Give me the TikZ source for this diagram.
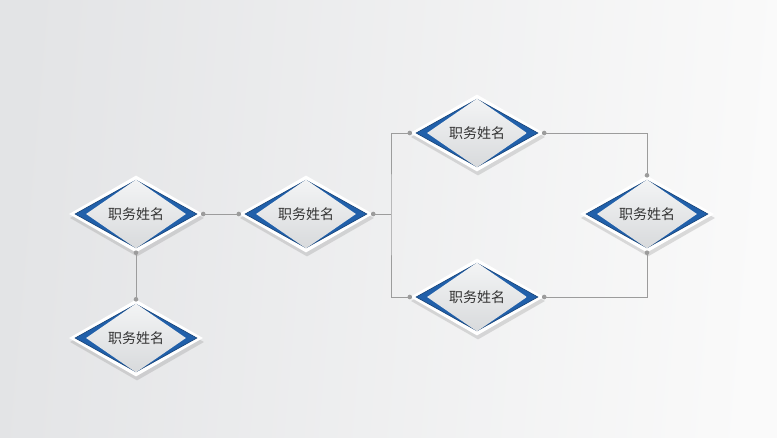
\documentclass[tikz,border=0pt]{standalone}
\usepackage{fontspec}
\newfontfamily\cjk{Noto Sans CJK SC}
\usetikzlibrary{shapes.geometric}
\usetikzlibrary{shadows}
\definecolor{bandblue}{HTML}{2160AA}
\definecolor{wiregray}{HTML}{9C9C9C}
\definecolor{bgdark}{HTML}{E3E4E6}
\definecolor{bglight}{HTML}{FAFAFA}
\definecolor{innertop}{HTML}{F3F4F5}
\definecolor{innerbot}{HTML}{D8DADC}
\tikzset{
  outer/.style={diamond, fill=white, inner sep=0pt, minimum width=134pt, minimum height=77pt,
    drop shadow={opacity=0.25, shadow xshift=1pt, shadow yshift=-4pt}},
  band/.style={diamond, fill=bandblue, draw=bandblue!70!black, line width=0.6pt, inner sep=0pt,
    minimum width=122pt, minimum height=68pt},
  inner/.style={diamond, top color=innertop, bottom color=innerbot, inner sep=0pt,
    minimum width=100pt, minimum height=52pt, text=black!80,
    font=\cjk\fontsize{14}{14}\selectfont},
  wire/.style={draw=wiregray, line width=0.9pt},
  dot/.style={fill=wiregray}
}
\begin{document}
\begin{tikzpicture}[x=1pt, y=-1pt]
\def\r{2.3}
\useasboundingbox (0,0) rectangle (777,437);
\shade[left color=bgdark, right color=bglight, shading angle=85] (0,0) rectangle (777,437);
%\draw[help lines] (0,0) grid[step=50] (777,437);
\node [outer, name=a]  at (136,214) {};
\node [band,  name=ab] at (136,214) {};
\node [inner, name=at] at (136,214) {职务姓名};
\node [outer, name=b]  at (136,338) {};
\node [band,  name=bb] at (136,338) {};
\node [inner, name=bt] at (136,338) {职务姓名};
\node [outer, name=c]  at (306,214) {};
\node [band,  name=cb] at (306,214) {};
\node [inner, name=ct] at (306,214) {职务姓名};
\node [outer, name=d]  at (477,133) {};
\node [band,  name=db] at (477,133) {};
\node [inner, name=dt] at (477,133) {职务姓名};
\node [outer, name=e]  at (477,297) {};
\node [band,  name=eb] at (477,297) {};
\node [inner, name=et] at (477,297) {职务姓名};
\node [outer, name=f]  at (647,214) {};
\node [band,  name=fb] at (647,214) {};
\node [inner, name=ft] at (647,214) {职务姓名};
\coordinate (j) at (391,214);
\draw [wire] (a.east) -- (c.west);
\draw [wire] (a.south) -- (b.north);
\draw [wire] (c.east) -- (j);
\draw [wire] (d.west) -| (j) |- (e.west);
\draw [wire] (d.east) -| (f.north);
\draw [wire] (e.east) -| (f.south);
\foreach \p in {a.east, c.west, a.south, b.north, c.east, d.west, e.west, d.east, e.east, f.north, f.south}
  \fill [dot] (\p) circle (\r);
\end{tikzpicture}
\end{document}
